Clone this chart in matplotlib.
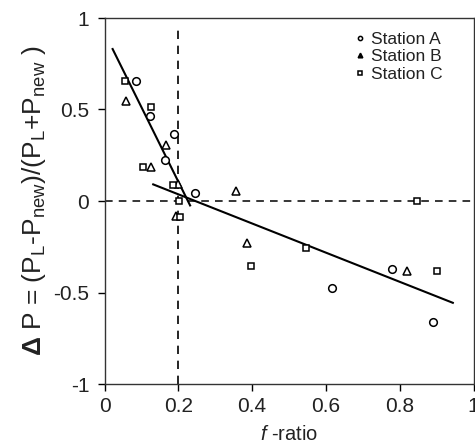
import numpy as np
import matplotlib.pyplot as plt

plt.rcParams['font.family'] = ['Liberation Sans', 'DejaVu Sans']
plt.rcParams['mathtext.fontset'] = 'custom'
plt.rcParams['mathtext.rm'] = 'Liberation Sans'
plt.rcParams['mathtext.it'] = 'Liberation Sans:italic'
plt.rcParams['mathtext.bf'] = 'Liberation Sans:bold'

# f-ratio vs relative production difference, per station
xa = [0.085, 0.124, 0.187, 0.165, 0.246, 0.617, 0.779, 0.891]
ya = [0.656, 0.464, 0.364, 0.224, 0.045, -0.474, -0.373, -0.663]

xb = [0.057, 0.166, 0.126, 0.198, 0.357, 0.195, 0.387, 0.820]
yb = [0.548, 0.308, 0.184, 0.091, 0.056, -0.082, -0.231, -0.381]

xc = [0.056, 0.126, 0.105, 0.186, 0.202, 0.205, 0.397, 0.546, 0.846, 0.900]
yc = [0.656, 0.515, 0.184, 0.086, 0.0, -0.09, -0.355, -0.257, 0.0, -0.384]

# regression lines (intercept, slope, x range)
fit1 = (0.92, -4.07, 0.022, 0.232)
fit2 = (0.196, -0.797, 0.132, 0.944)

fig = plt.figure(figsize=(4.75, 4.48), dpi=100)
ax = fig.add_axes([104.5 / 475, 1 - 384 / 448, 369 / 475, 366 / 448])

ax.axhline(0, color='k', ls=(0, (5, 4)), lw=1.1)
ax.plot([0.2, 0.2], [-1, 0.96], color='k', ls=(0, (5, 4)), lw=1.2)

for b0, b1, x0, x1 in (fit1, fit2):
    xx = np.array([x0, x1])
    ax.plot(xx, b0 + b1 * xx, color='k', lw=1.5)

ms = 5.5
ax.plot(xa, ya, 'o', mfc='white', mec='k', mew=1.1, ms=ms, label='Station A')
ax.plot(xb, yb, '^', mfc='white', mec='k', mew=1.1, ms=ms + 0.5, label='Station B')
ax.plot(xc, yc, 's', mfc='white', mec='k', mew=1.1, ms=ms - 0.5, label='Station C')

leg = ax.legend(loc='upper left', bbox_to_anchor=(352 / 475, 1 - 32 / 448),
                bbox_transform=fig.transFigure, frameon=False, fontsize=12.5,
                handletextpad=0.2, handlelength=0.9, labelspacing=0.12,
                borderaxespad=0, borderpad=0, markerscale=0.55)
for h in leg.legend_handles:
    if h.get_marker() == '^':
        h.set_markerfacecolor('k')
for t in leg.get_texts():
    t.set_color('#222222')

ax.set_xlim(0, 1)
ax.set_ylim(-1, 1)
ax.set_xticks([0, 0.2, 0.4, 0.6, 0.8, 1])
ax.set_xticklabels(['0', '0.2', '0.4', '0.6', '0.8', '1'])
ax.set_yticks([-1, -0.5, 0, 0.5, 1])
ax.set_yticklabels(['-1', '-0.5', '0', '0.5', '1'])
ax.tick_params(direction='out', length=5, width=1, labelsize=15, pad=4,
               labelcolor='#222222')
ax.tick_params(axis='y', pad=6)
for s in ax.spines.values():
    s.set_linewidth(1.0)
    s.set_color('#333333')

ax.set_xlabel(r'$\it{f}$ -ratio', fontsize=14.5, labelpad=7, color='#222222')
ax.set_ylabel(r'$\mathbf{\Delta}$ P = (P$_{\rm L}$-P$_{\rm new}$)/(P$_{\rm L}$+P$_{\rm new}$ )',
              fontsize=19, labelpad=4, color='#222222')

fig.savefig('out.png', dpi=100)
